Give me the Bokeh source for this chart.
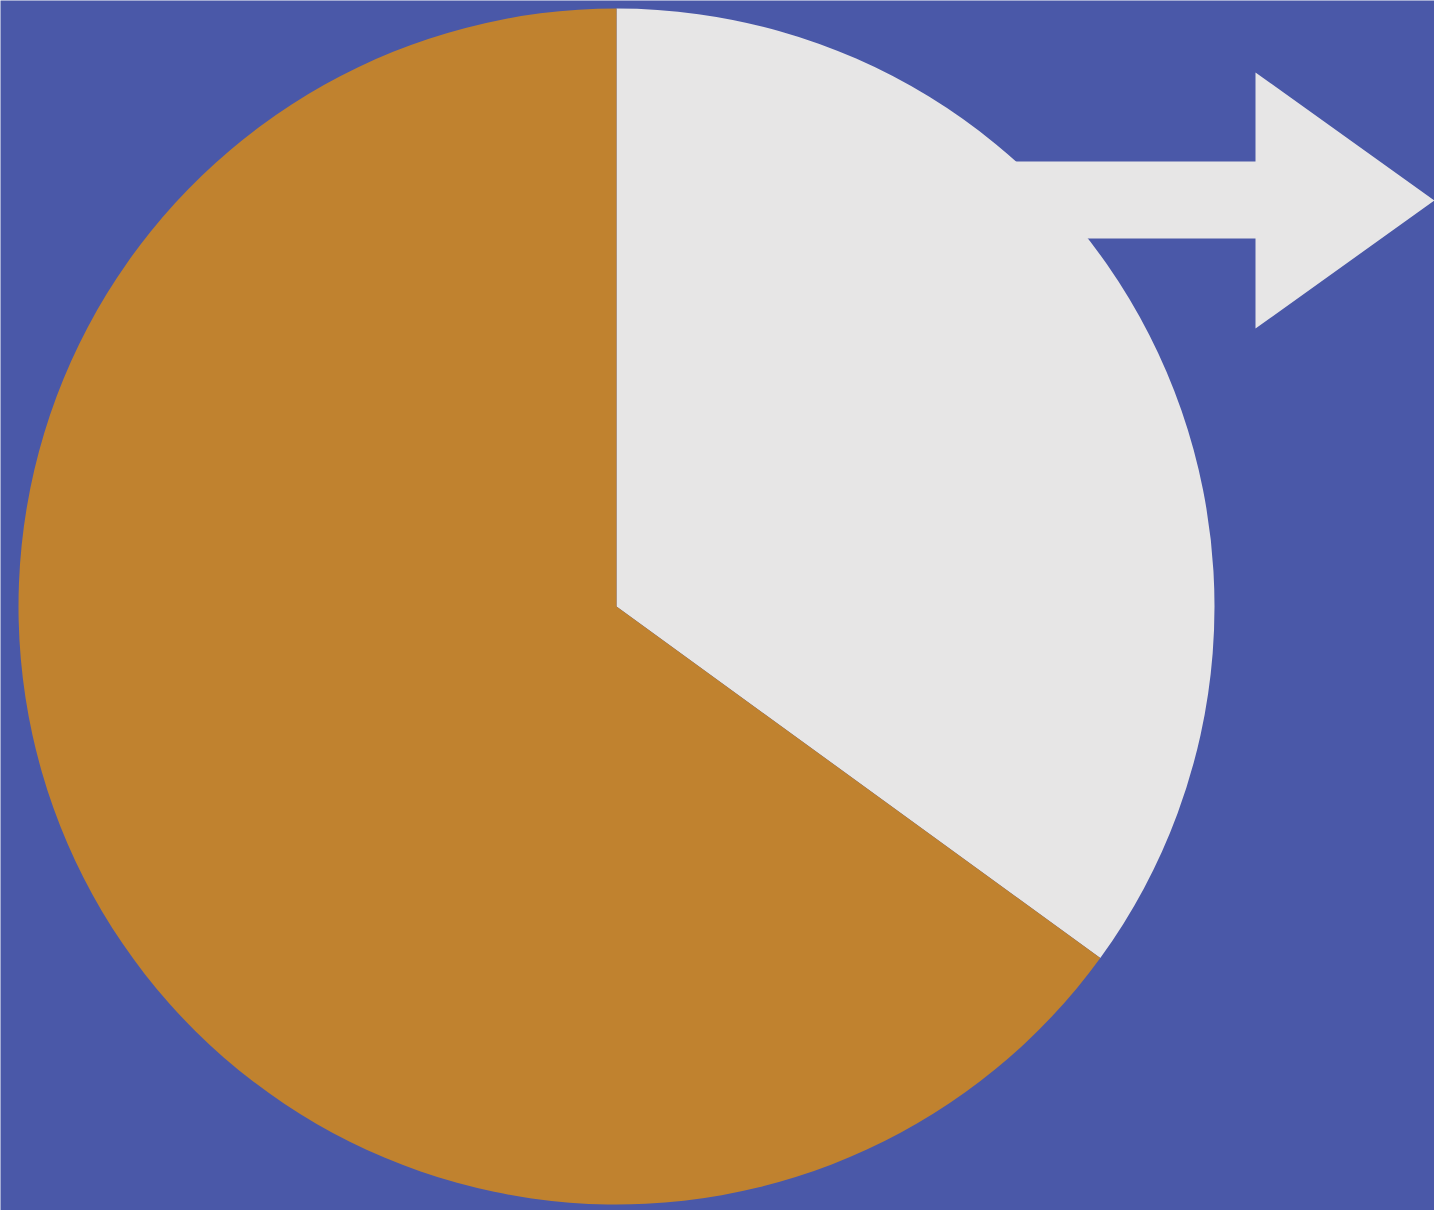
import math
from bokeh.plotting import figure
from bokeh.models import Range1d
from bokeh.embed import file_html
from bokeh.resources import INLINE

# Data
categories = ["Share", "Rest"]
values = [35, 65]
colors = ["#E7E6E6", "#C0822F"]

W, H = 1434, 1210
p = figure(width=W, height=H, output_backend="svg", toolbar_location=None,
           x_range=Range1d(0, W), y_range=Range1d(0, H), min_border=0)
p.axis.visible = False
p.grid.visible = False
p.outline_line_color = None
p.background_fill_color = "#4A58A8"
p.border_fill_color = "#4A58A8"

cx, cy, r = 616, H - 606, 598
total = sum(values)
start = math.pi / 2
starts, ends = [], []
for v in values:
    end = start - v / total * 2 * math.pi
    starts.append(start)
    ends.append(end)
    start = end

p.wedge(x=[cx] * len(values), y=[cy] * len(values), radius=r,
        start_angle=starts, end_angle=ends, direction="clock",
        fill_color=colors, line_color=None)

# Arrow decoration
ax = [900, 1255, 1255, 1434, 1255, 1255, 900]
ay = [H - 161, H - 161, H - 72, H - 200, H - 328, H - 238, H - 238]
p.patch(ax, ay, fill_color="#E7E6E6", line_color=None)

open("out.html", "w").write(file_html(p, INLINE))
